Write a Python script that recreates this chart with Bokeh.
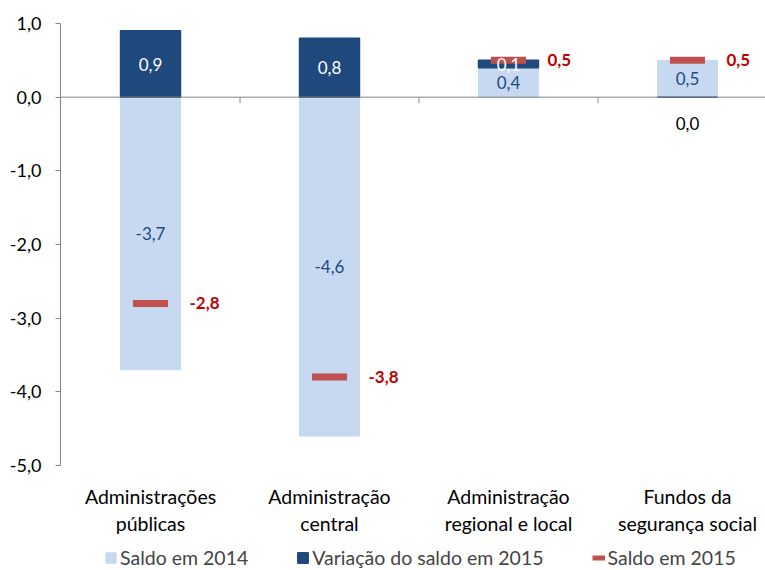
import numpy as np
from bokeh.plotting import figure
from bokeh.models import Range1d, FixedTicker, Span, Legend, LegendItem
from bokeh.core.properties import value
from bokeh.embed import file_html
from bokeh.resources import INLINE

# ---- data ----
categories = ["Administrações\npúblicas", "Administração\ncentral",
              "Administração\nregional e local", "Fundos da\nsegurança social"]
saldo_2014 = [-3.7, -4.6, 0.4, 0.5]
variacao_2015 = [0.9, 0.8, 0.1, 0.0]
saldo_2015 = [-2.8, -3.8, 0.5, 0.5]
y_ticks = [-5, -4, -3, -2, -1, 0, 1]
series_names = ["Saldo em 2014", "Variação do saldo em 2015", "Saldo em 2015"]

FONT = "Lato"
LIGHT = "#C6D9F1"
DARK = "#1F497D"
RED = "#C0504D"
REDTXT = "#C00000"
AXIS = "#868686"
FS = "17px"

Y_MIN, Y_MAX = y_ticks[0], y_ticks[-1]
PX_PER_UNIT = 442 / (Y_MAX - Y_MIN)
FRAME_H = 546
Y_LOW = Y_MAX - FRAME_H / PX_PER_UNIT   # room below the axis for labels/legend


def fmt(v):
    return f"{v:.1f}".replace(".", ",").replace("-0,0", "0,0")


x = np.arange(len(categories), dtype=float)
s14 = np.array(saldo_2014)
var = np.array(variacao_2015)
s15 = np.array(saldo_2015)
# Excel-like stacking (positives stack on positives, negatives on negatives)
var_bottom = np.where(var > 0, np.maximum(s14, 0), np.minimum(s14, 0))
var_top = var_bottom + var

p = figure(frame_width=705, frame_height=FRAME_H, output_backend="svg",
           toolbar_location=None, x_axis_location=None,
           x_range=Range1d(-0.503, 3.436), y_range=Range1d(Y_LOW, Y_MAX),
           min_border_left=60, min_border_top=23, min_border_right=0,
           min_border_bottom=0)
p.outline_line_color = None
p.xgrid.visible = False
p.ygrid.visible = False
p.background_fill_color = "white"
p.border_fill_color = "white"

bw = 0.335
r14 = p.vbar(x=x, bottom=0, top=s14, width=bw, fill_color=LIGHT, line_color=LIGHT)
rvar = p.vbar(x=x, bottom=var_bottom, top=var_top, width=bw, fill_color=DARK,
              line_color=DARK, line_width=1.5)

# zero axis line + category boundary ticks
p.add_layout(Span(location=0, dimension="width", line_color=AXIS, line_width=1))
bounds = x[:-1] + 0.5
p.ray(x=bounds, y=0, length=6, angle=-np.pi / 2, length_units="screen",
      line_color=AXIS, line_width=1)

# saldo 2015 markers
p.rect(x=x, y=s15, width=0.196, height=7, height_units="screen",
       fill_color=RED, line_color=None)
rleg = p.line(x=[0, 0], y=[-100, -100], line_color=RED, line_width=5)

# data labels
p.text(x=x, y=s14 / 2, text=[fmt(v) for v in s14], text_color=DARK,
       text_font=value(FONT), text_font_size=FS, text_align="center",
       text_baseline="middle")
var_visible = np.abs(var) > 0.001
var_lab_y = np.where(var_visible, (var_bottom + var_top) / 2, 0.0)
var_col = ["white" if v else "black" for v in var_visible]
var_off = [0 if v else 26 for v in var_visible]
p.text(x=x, y=var_lab_y, text=[fmt(v) for v in var], text_color=var_col,
       y_offset=var_off, text_font=value(FONT), text_font_size=FS,
       text_align="center", text_baseline="middle")
p.text(x=x, y=s15, text=[fmt(v) for v in s15], text_color=REDTXT,
       x_offset=39, text_font=value(FONT), text_font_size=FS,
       text_font_style="bold", text_align="left", text_baseline="middle")

# category labels under the plot area
p.text(x=x, y=Y_MIN, text=categories, y_offset=19, text_color="black",
       text_font=value(FONT), text_font_size="19.5px", text_align="center",
       text_baseline="top", text_line_height=1.2)

# y axis
p.yaxis.bounds = (Y_MIN, Y_MAX)
p.yaxis.ticker = FixedTicker(ticks=y_ticks)
p.yaxis.major_label_overrides = {t: fmt(t) for t in y_ticks}
p.yaxis.axis_line_color = AXIS
p.yaxis.major_tick_line_color = AXIS
p.yaxis.major_tick_out = 5
p.yaxis.major_tick_in = 0
p.yaxis.minor_tick_line_color = None
p.yaxis.major_label_standoff = 14
p.yaxis.major_label_text_font = FONT
p.yaxis.major_label_text_font_size = "18px"
p.yaxis.major_label_text_color = "black"

legend = Legend(items=[LegendItem(label=series_names[0], renderers=[r14]),
                       LegendItem(label=series_names[1], renderers=[rvar]),
                       LegendItem(label=series_names[2], renderers=[rleg])],
                orientation="horizontal", location=(44, 0),
                border_line_color=None, background_fill_alpha=0,
                margin=0, padding=0, spacing=48, label_standoff=3,
                glyph_width=13, glyph_height=13,
                label_text_font=FONT, label_text_font_size="19.5px")
p.add_layout(legend, "center")

open("out.html", "w").write(file_html(p, INLINE))
